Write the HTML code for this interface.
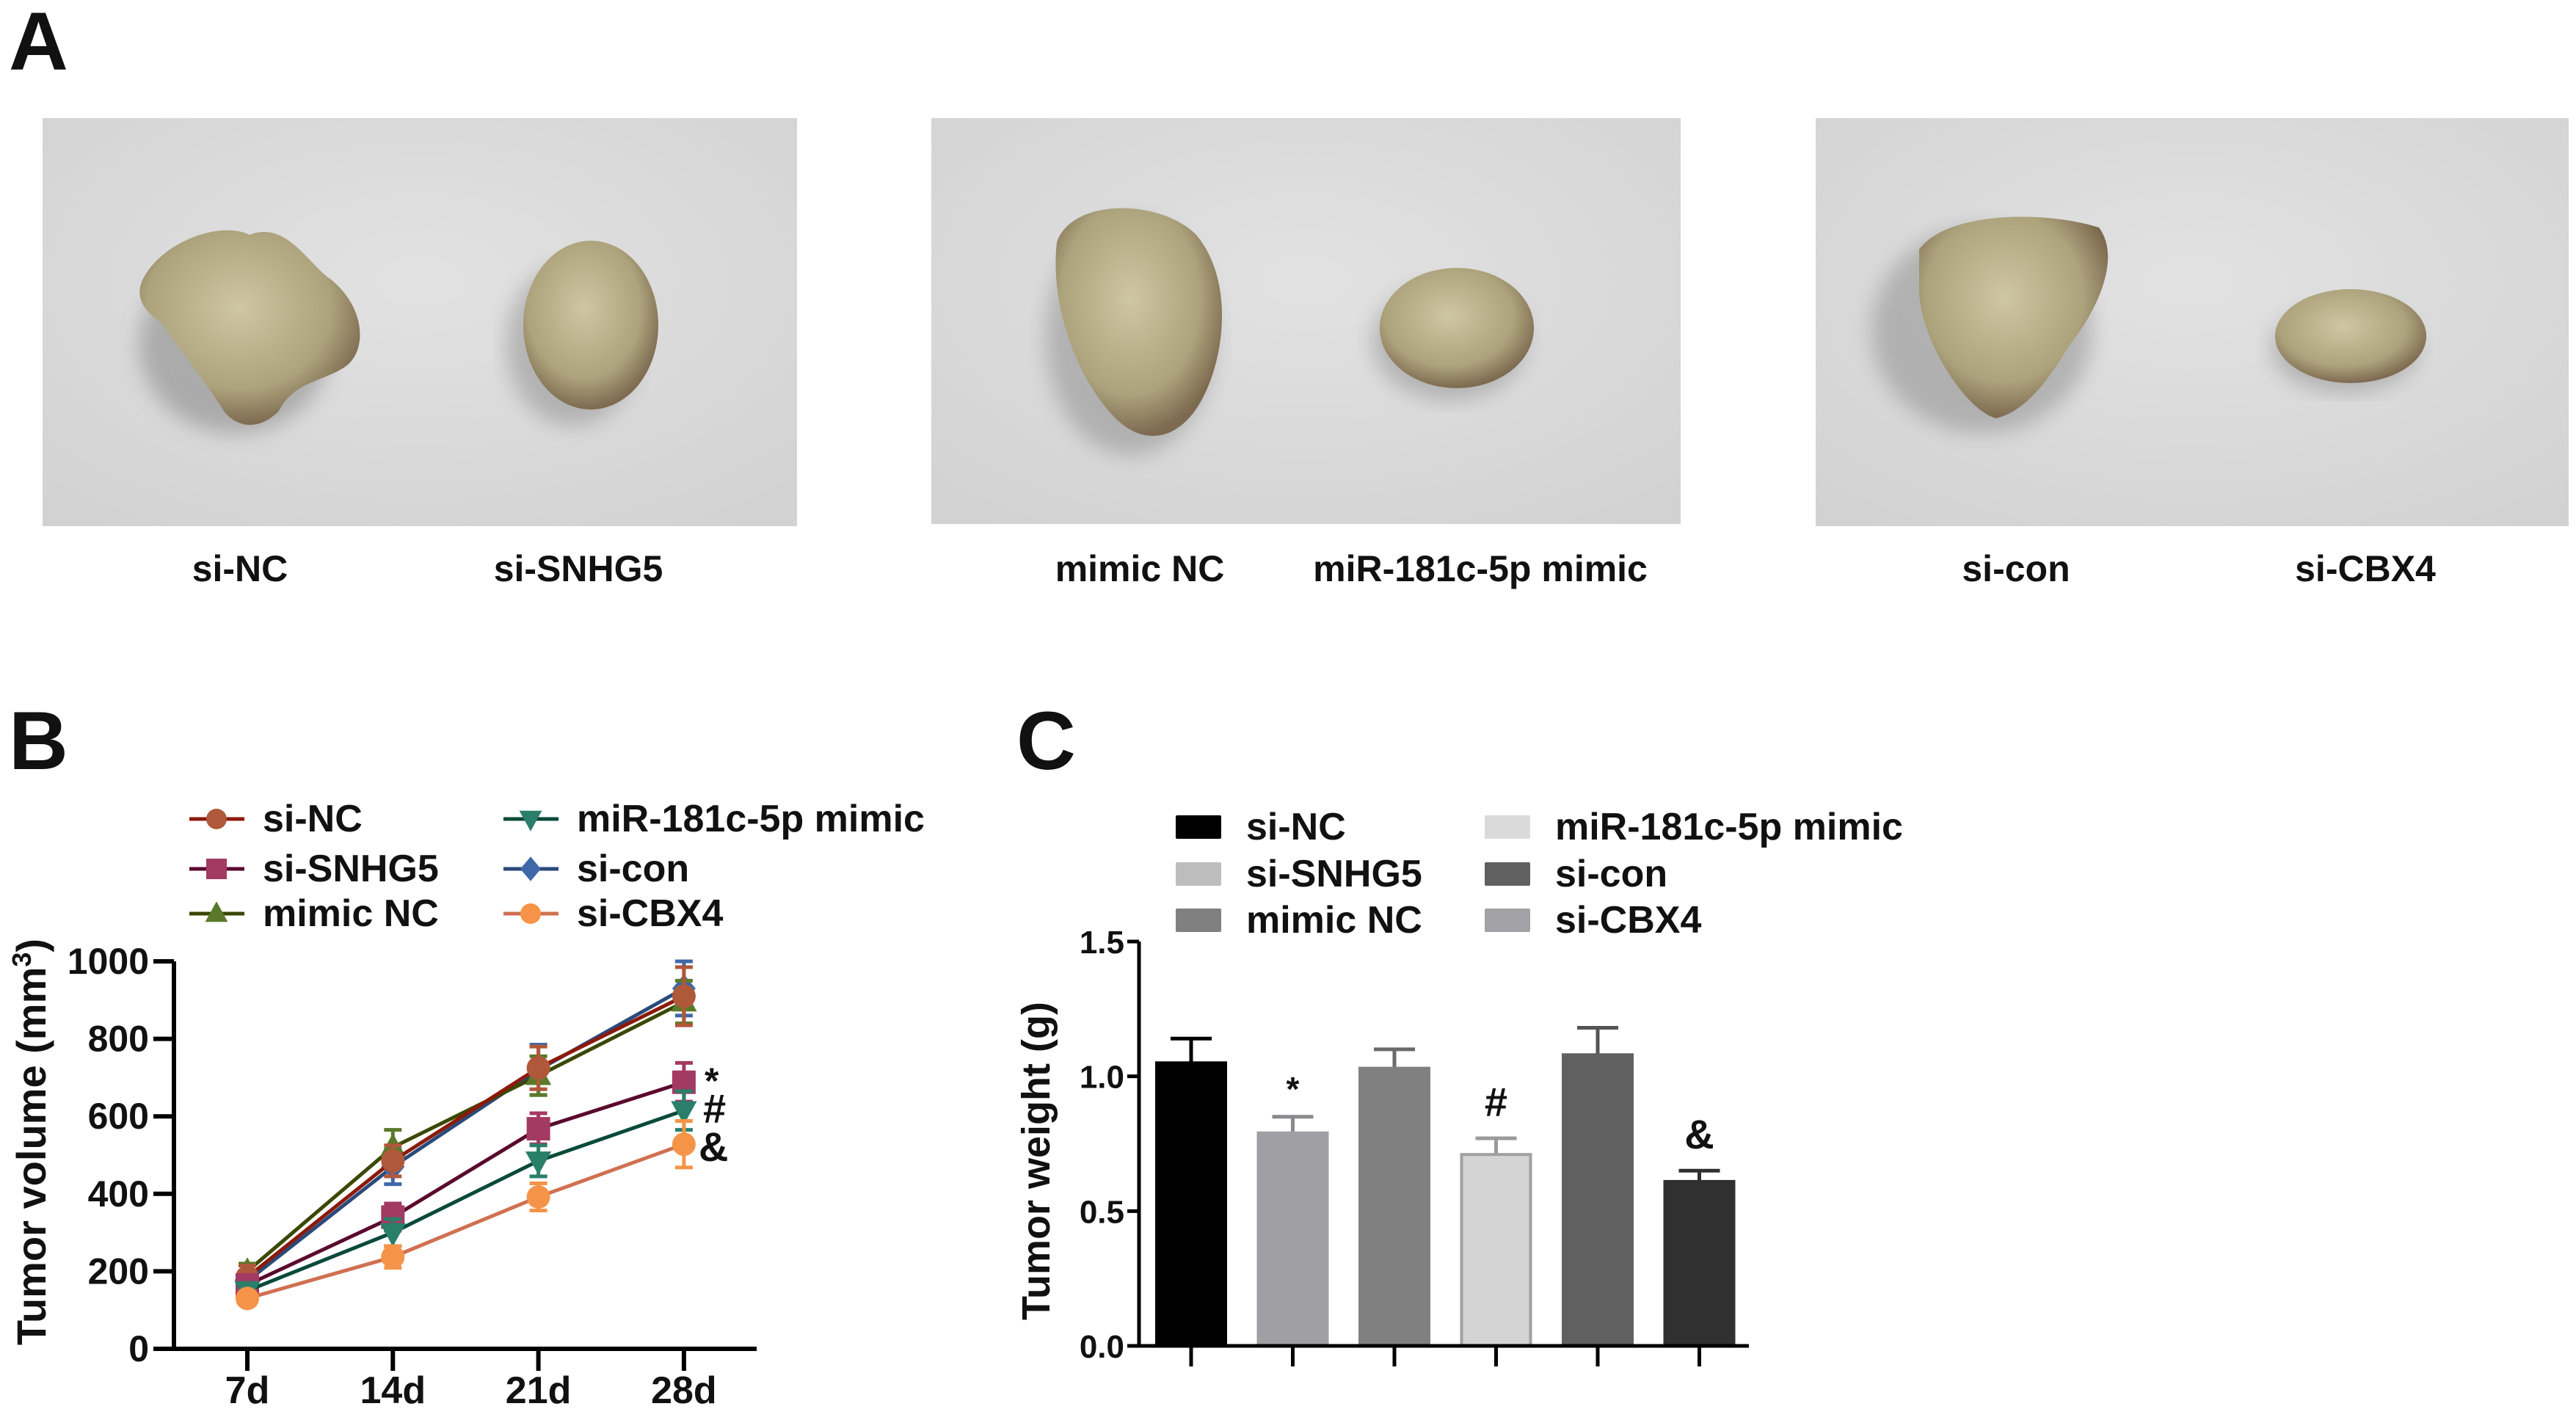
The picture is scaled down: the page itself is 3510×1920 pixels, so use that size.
<!DOCTYPE html>
<html><head><meta charset="utf-8"><style>
html,body{margin:0;padding:0;background:#fff;}
svg{display:block;}
text{font-family:"Liberation Sans Narrow","Liberation Sans",sans-serif;font-weight:bold;fill:#111;}
.big{font-family:"Liberation Sans",sans-serif;font-weight:bold;}
</style></head><body>
<svg id="fig" width="3510" height="1920" viewBox="0 0 3510 1920" xmlns="http://www.w3.org/2000/svg">
<defs>
<radialGradient id="bg" cx="50%" cy="40%" r="75%"><stop offset="0" stop-color="#e2e2e2"/><stop offset="1" stop-color="#d2d2d2"/></radialGradient>
<radialGradient id="tum" cx="45%" cy="40%" r="60%"><stop offset="0" stop-color="#cfc7a2"/><stop offset="0.7" stop-color="#aca27c"/><stop offset="1" stop-color="#7d6a50"/></radialGradient>
<filter id="blur"><feGaussianBlur stdDeviation="14"/></filter>
</defs>
<text class="big" x="12" y="95" font-size="112">A</text>
<text class="big" x="12" y="1048" font-size="112">B</text>
<text class="big" x="1385" y="1048" font-size="112">C</text>

<g>
<rect x="58" y="161" width="1028" height="556" fill="url(#bg)"/>
<ellipse cx="320" cy="470" rx="130" ry="120" fill="#555" opacity="0.35" filter="url(#blur)"/>
<path d="M195,380 C220,330 300,300 340,320 C390,300 420,360 450,380 C500,420 500,480 470,500 C440,520 400,520 380,560 C350,590 320,580 305,560 C280,520 240,470 220,440 C190,420 185,400 195,380Z" fill="url(#tum)"/>
<ellipse cx="780" cy="470" rx="90" ry="110" fill="#555" opacity="0.3" filter="url(#blur)"/>
<ellipse cx="805" cy="443" rx="92" ry="115" fill="url(#tum)"/>
</g>
<g>
<rect x="1269" y="161" width="1021" height="553" fill="url(#bg)"/>
<ellipse cx="1540" cy="460" rx="115" ry="160" fill="#555" opacity="0.3" filter="url(#blur)"/>
<path d="M1440,330 C1460,270 1580,270 1630,320 C1680,380 1670,480 1640,540 C1610,600 1560,610 1520,570 C1470,520 1430,420 1440,330Z" fill="url(#tum)"/>
<ellipse cx="1975" cy="465" rx="105" ry="80" fill="#555" opacity="0.3" filter="url(#blur)"/>
<ellipse cx="1985" cy="447" rx="105" ry="82" fill="url(#tum)"/>
</g>
<g>
<rect x="2474" y="161" width="1026" height="556" fill="url(#bg)"/>
<ellipse cx="2700" cy="450" rx="150" ry="140" fill="#555" opacity="0.3" filter="url(#blur)"/>
<path d="M2615,340 C2650,290 2780,285 2860,310 C2890,350 2860,420 2820,470 C2790,520 2760,560 2720,570 C2680,560 2620,470 2615,400Z" fill="url(#tum)"/>
<ellipse cx="3195" cy="475" rx="100" ry="60" fill="#555" opacity="0.3" filter="url(#blur)"/>
<ellipse cx="3203" cy="458" rx="103" ry="64" fill="url(#tum)"/>
</g>
<g font-size="50" text-anchor="middle">
<text x="327" y="792">si-NC</text><text x="788" y="792">si-SNHG5</text>
<text x="1553" y="792">mimic NC</text><text x="2017" y="792">miR-181c-5p mimic</text>
<text x="2747" y="792">si-con</text><text x="3223" y="792">si-CBX4</text>
</g>
<g id="chartB"></g>
<g id="chartC"></g>
</svg>
<script>
const NS="http://www.w3.org/2000/svg";
// Chart B data
const daysB=["7d","14d","21d","28d"];
const ticksB=[0,200,400,600,800,1000];
const seriesNames=["si-NC","si-SNHG5","mimic NC","miR-181c-5p mimic","si-con","si-CBX4"];
const siNC=[185,485,725,910];
const siNCerr=[30,40,55,75];
const siSNHG5=[165,340,568,688];
const siSNHG5err=[20,35,40,50];
const mimicNC=[200,520,705,895];
const mimicNCerr=[20,45,50,55];
const mirMimic=[150,300,485,615];
const mirMimicErr=[20,35,40,50];
const siCon=[175,470,720,930];
const siConErr=[25,45,65,70];
const siCBX4=[130,237,392,528];
const siCBX4err=[15,28,35,60];
// Chart C data
const groupsC=["si-NC","si-SNHG5","mimic NC","miR-181c-5p mimic","si-con","si-CBX4"];
const weightC=[1.05,0.79,1.03,0.71,1.08,0.61];
const weightErrC=[0.09,0.06,0.07,0.06,0.10,0.04];
const ticksC=[0.0,0.5,1.0,1.5];
const tickLabelsC=["0.0","0.5","1.0","1.5"];
const marksC=["","*","","#","","&"];

function mk(tag,attrs,parent,txt){const e=document.createElementNS(NS,tag);for(const k in attrs)e.setAttribute(k,attrs[k]);if(txt!==undefined)e.textContent=txt;parent.appendChild(e);return e;}

// ---- Chart B
const gB=document.getElementById('chartB');
const bx0=237,bx1=1031,by0=1838,by1=1310;
const xB=i=>337+i*198.3;
const yB=v=>by0-(v/1000)*(by0-by1);
let ax=mk('path',{d:`M${bx0},${by1} V${by0} H${bx1}`,stroke:'#000','stroke-width':6,fill:'none'},gB);


ticksB.forEach(t=>{
  mk('line',{x1:bx0-28,x2:bx0,y1:yB(t),y2:yB(t),stroke:'#000','stroke-width':6},gB);
  const l=mk('text',{x:bx0-34,y:yB(t)+17,'font-size':50,'text-anchor':'end'},gB,String(t));
  
  
});
daysB.forEach((d,i)=>{
  mk('line',{x1:xB(i),x2:xB(i),y1:by0,y2:by0+30,stroke:'#000','stroke-width':6},gB);
  const l=mk('text',{x:xB(i),y:1912,'font-size':52,'text-anchor':'middle'},gB,d);
  
  
});
const yt=mk('text',{class:'big',x:0,y:0,'font-size':56,'text-anchor':'middle',transform:'translate(62,1556) rotate(-90)'},gB);
yt.innerHTML='Tumor volume (mm<tspan font-size="36" dy="-20">3</tspan><tspan dy="20">)</tspan>';


const sB=[
 {v:siNC,e:siNCerr,line:'#8b1a0a',m:'#b0583a',shape:'circle'},
 {v:siSNHG5,e:siSNHG5err,line:'#5a0a2e',m:'#a33a62',shape:'square'},
 {v:mimicNC,e:mimicNCerr,line:'#3a4800',m:'#5a7a2a',shape:'tri'},
 {v:mirMimic,e:mirMimicErr,line:'#0a4a3a',m:'#2a7f6a',shape:'tridown'},
 {v:siCon,e:siConErr,line:'#2a4a7a',m:'#3f68a8',shape:'diamond'},
 {v:siCBX4,e:siCBX4err,line:'#d07050',m:'#f59448',shape:'circle'}
];
function marker(sh,x,y,c,g,r){
  if(sh==='circle')return mk('circle',{cx:x,cy:y,r:r,fill:c},g);
  if(sh==='square')return mk('rect',{x:x-r,y:y-r,width:2*r,height:2*r,fill:c},g);
  if(sh==='tri')return mk('polygon',{points:`${x},${y-r*1.2} ${x+r*1.1},${y+r*0.8} ${x-r*1.1},${y+r*0.8}`,fill:c},g);
  if(sh==='tridown')return mk('polygon',{points:`${x},${y+r*1.2} ${x+r*1.1},${y-r*0.8} ${x-r*1.1},${y-r*0.8}`,fill:c},g);
  return mk('polygon',{points:`${x},${y-r*1.2} ${x+r},${y} ${x},${y+r*1.2} ${x-r},${y}`,fill:c},g);
}
[4,2,0,1,3,5].forEach(si=>{
  const s=sB[si];
  const g=mk('g',{},gB);
  
  
  mk('polyline',{points:s.v.map((v,i)=>`${xB(i)},${yB(v)}`).join(' '),fill:'none',stroke:s.line,'stroke-width':5},g);
  s.v.forEach((v,i)=>{
    const x=xB(i),lo=yB(v-s.e[i]),hi=yB(v+s.e[i]);
    mk('path',{d:`M${x},${lo}V${hi}M${x-12},${lo}H${x+12}M${x-12},${hi}H${x+12}`,stroke:s.m,'stroke-width':5,fill:'none'},g);
    const m=marker(s.shape,x,yB(v),s.m,g,16);
    
    
  });
});
[['*',960,1490,50],['#',958,1530,56],['&',952,1582,56]].forEach(a=>{
  const t=mk('text',{x:a[1],y:a[2],'font-size':a[3]},gB,a[0]);
  
  
});
// legend B
const legPos=[[258,1113],[258,1181],[258,1242],[686,1113],[686,1181],[686,1242]];
seriesNames.forEach((n,i)=>{
  const [x,y]=legPos[i],s=sB[i];
  const g=mk('g',{},gB);
  
  
  mk('line',{x1:x,x2:x+75,y1:y+3,y2:y+3,stroke:s.line,'stroke-width':5},g);
  marker(s.shape,x+37,y+3,s.m,g,14);
  mk('text',{x:x+100,y:y+20,'font-size':52},g,n);
});

// ---- Chart C
const gC=document.getElementById('chartC');
const cx0=1552,cx1=2383,cy0=1834,cy1=1283;
const yC=v=>cy0-(v/1.5)*(cy0-cy1);
const xC=i=>1623+i*138.5;
const barFill=['#000000','#a0a0a4','#808080','#d4d4d4','#606060','#303030'];
const barStroke=['#000000','#a0a0a4','#808080','#a0a0a0','#606060','#303030'];
const errCol=['#000000','#8a8a8e','#6a6a6a','#9a9a9a','#555555','#303030'];
weightC.forEach((v,i)=>{
  const x=xC(i),top=yC(v),eh=yC(v+weightErrC[i]);
  mk('path',{d:`M${x},${top}V${eh}M${x-28},${eh}H${x+28}`,stroke:errCol[i],'stroke-width':5,fill:'none'},gC);
  const b=mk('rect',{x:x-47,y:top,width:94,height:cy0-top,fill:barFill[i],stroke:barStroke[i],'stroke-width':4},gC);
  
  
  mk('line',{x1:x,x2:x,y1:cy0,y2:cy0+28,stroke:'#000','stroke-width':5},gC);
  if(marksC[i]){
    const t=mk('text',{x:x,y:eh-(marksC[i]==='*'?22:30),'font-size':marksC[i]==='*'?46:56,'text-anchor':'middle'},gC,marksC[i]);
    
    
  }
});
const axc=mk('path',{d:`M${cx0},${cy1} V${cy0} H${cx1}`,stroke:'#000','stroke-width':5,fill:'none'},gC);


ticksC.forEach((t,i)=>{
  mk('line',{x1:cx0-16,x2:cx0,y1:yC(t),y2:yC(t),stroke:'#000','stroke-width':5},gC);
  const l=mk('text',{x:cx0-20,y:yC(t)+16,'font-size':44,'text-anchor':'end'},gC,tickLabelsC[i]);
  
  
});
const ytc=mk('text',{class:'big',x:0,y:0,'font-size':54,'text-anchor':'middle',transform:'translate(1430,1582) rotate(-90)'},gC,'Tumor weight (g)');


const legColC=['#000000','#bdbdbd','#808080','#dadada','#606060','#a2a2a6'];
const legPosC=[[1602,1127],[1602,1191],[1602,1254],[2023,1127],[2023,1191],[2023,1254]];
groupsC.forEach((n,i)=>{
  const [x,y]=legPosC[i];
  const g=mk('g',{},gC);
  
  
  mk('rect',{x:x,y:y-16,width:62,height:32,fill:legColC[i],rx:2},g);
  mk('text',{x:x+96,y:y+17,'font-size':52},g,n);
});
</script>
</body></html>
